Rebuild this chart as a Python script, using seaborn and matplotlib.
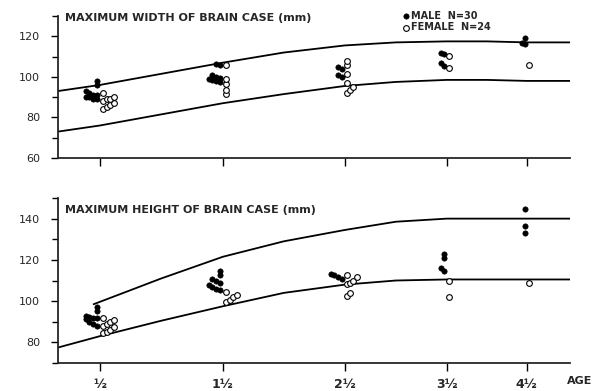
import numpy as np
import pandas as pd
import seaborn as sns
import matplotlib.pyplot as plt

sns.set_style("ticks")
plt.rcParams['font.family'] = ['DejaVu Sans']

# ages (years) and their tick labels
AGES = [0.5, 1.5, 2.5, 3.5, 4.5]
TICK_LABELS = ['½', '1½', '2½', '3½', '4½']

# maximum width of brain case (mm), per age group
width_male = {0.5: [98, 96, 93, 92, 91, 91, 90, 90, 89, 89],
              1.5: [106.5, 106, 101, 100, 99.5, 99, 98.5, 98, 97.5],
              2.5: [105, 104, 101, 100],
              3.5: [112, 111.5, 107, 105.5],
              4.5: [119, 116.5, 116]}
width_female = {0.5: [92, 90, 89, 89, 88, 87, 86, 85, 84],
                1.5: [106, 99, 96.5, 93.5, 91.5],
                2.5: [108, 106, 101.5, 97, 95, 93.5, 92],
                3.5: [110.5, 104.5],
                4.5: [106]}

# maximum height of brain case (mm), per age group
height_male = {0.5: [97, 95, 93, 92.5, 92, 92, 91.5, 90, 89, 88],
               1.5: [114.5, 112.5, 110.5, 110, 108.7, 108, 107, 106, 105.5],
               2.5: [113, 112.5, 111.5, 110.5],
               3.5: [123, 121, 116, 114.5],
               4.5: [144.5, 136.6, 132.8]}
height_female = {0.5: [92, 91, 90, 89, 88, 87.5, 86, 85, 84.5],
                 1.5: [104.5, 103, 102, 100.5, 99.5],
                 2.5: [112.5, 111.5, 110, 109, 108.5, 104, 102.5],
                 3.5: [110, 102],
                 4.5: [108.7]}

# envelope curves
curve_age = [0.16, 0.5, 1.0, 1.5, 2.0, 2.5, 3.0, 3.5, 4.0, 4.5, 5.04]
width_upper = [93, 96, 101.5, 107, 112, 115.5, 117, 117.5, 117.5, 117, 117]
width_lower = [73, 76, 81.5, 87, 91.5, 95.5, 97.5, 98.5, 98.5, 98, 98]
height_upper_age = [0.45, 1.0, 1.5, 2.0, 2.5, 3.0, 3.5, 4.0, 4.5, 5.04]
height_upper = [98.5, 111, 121.5, 129, 134.5, 138.5, 140, 140, 140, 140]
height_lower = [77.5, 83, 90.5, 97.5, 104, 108, 110, 110.5, 110.5, 110.5, 110.5]

# the original age axis is not evenly spaced
knot_age = [-1.0, 0.5, 1.5, 2.5, 3.5, 4.5, 6.0]
knot_pos = [-84.5, 100, 223, 345, 447, 527, 647]


def fwd(a):
    return np.interp(a, knot_age, knot_pos)


def inv(p):
    return np.interp(p, knot_pos, knot_age)


def to_frame(groups, side):
    rows = []
    for age, vals in groups.items():
        vals = np.asarray(vals, float)
        order = np.argsort(vals)
        k, prev = 0, None
        for i in order:
            k = k + 1 if prev is not None and abs(vals[i] - prev) < 1.6 else 0
            off = side * (0.025 + 0.03 * (k % 4))
            rows.append((age + off, vals[i]))
            prev = vals[i]
    return pd.DataFrame(rows, columns=['age', 'value'])


fig = plt.figure(figsize=(5.94, 3.91), dpi=100)
ax1 = fig.add_axes([0.0976, 0.596, 0.862, 0.363])
ax2 = fig.add_axes([0.0976, 0.0716, 0.862, 0.422])

panels = [(ax1, width_male, width_female, [(curve_age, width_upper), (curve_age, width_lower)],
           (60, 130), 'MAXIMUM WIDTH OF BRAIN CASE (mm)'),
          (ax2, height_male, height_female, [(height_upper_age, height_upper), (curve_age, height_lower)],
           (70, 150), 'MAXIMUM HEIGHT OF BRAIN CASE (mm)')]

for ax, male, female, curves, ylim, title in panels:
    ax.set_xscale('function', functions=(fwd, inv))
    for xs, ys in curves:
        sns.lineplot(x=xs, y=ys, ax=ax, color='black', lw=1.3, estimator=None, sort=False)
    sns.scatterplot(data=to_frame(male, -1), x='age', y='value', ax=ax, color='black',
                    s=15, edgecolor='black', linewidth=0.4, label='MALE  N=30', zorder=3)
    sns.scatterplot(data=to_frame(female, 1), x='age', y='value', ax=ax, color='white',
                    s=17, edgecolor='black', linewidth=0.8, label='FEMALE  N=24', zorder=3)
    ax.set_xlim(0.16, 5.04)
    ax.set_ylim(*ylim)
    ax.set_xticks(AGES)
    ax.set_yticks(np.arange(ylim[0] if ylim[0] % 20 == 0 else ylim[0] + 10, ylim[1] + 1, 20))
    ax.set_yticks(np.arange(ylim[0], ylim[1] + 1, 10), minor=True)
    ax.set_xlabel('')
    ax.set_ylabel('')
    ax.tick_params(axis='both', which='both', direction='out', width=1.0, color='black')
    ax.tick_params(axis='y', which='major', length=5, labelsize=8, pad=8)
    ax.tick_params(axis='y', which='minor', length=4)
    ax.tick_params(axis='x', which='minor', length=0)
    ax.tick_params(axis='x', which='major', length=6)
    for side in ['left', 'bottom']:
        ax.spines[side].set_linewidth(1.3)
    sns.despine(ax=ax)
    ax.text(0.014, 1.0, title, transform=ax.transAxes, fontsize=8, fontweight='bold',
            va='center', ha='left')

ax1.set_xticklabels([])
ax2.set_xticklabels(TICK_LABELS, fontsize=9, fontweight='bold')
ax2.tick_params(axis='x', pad=5)
ax1.texts[0].set_position((0.014, 0.985))
ax2.texts[0].set_position((0.014, 0.93))

ax2.get_legend().remove()
ax1.legend(loc='upper left', bbox_to_anchor=(0.66, 1.07), frameon=False,
           handletextpad=0.1, labelspacing=0.15, borderpad=0, handlelength=1.0,
           prop={'weight': 'bold', 'size': 7})

fig.text(0.955, 0.026, 'AGE', fontsize=8, fontweight='bold', ha='left', va='center')

fig.savefig('out.png', dpi=100)
